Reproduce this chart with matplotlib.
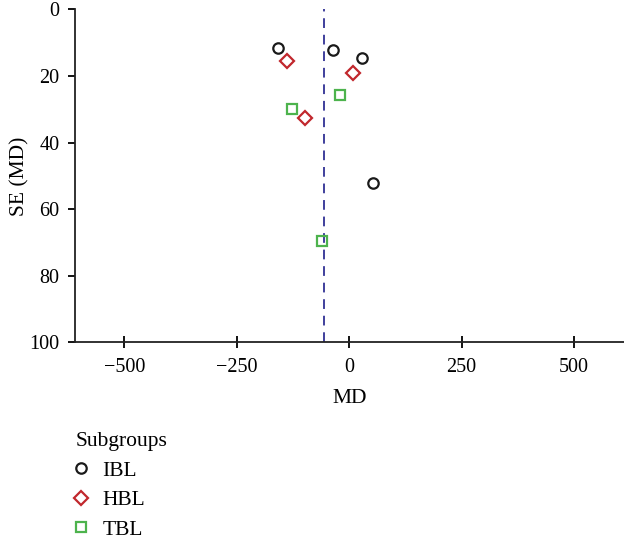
import matplotlib
matplotlib.use("Agg")
import matplotlib.pyplot as plt
from matplotlib.lines import Line2D

plt.rcParams['font.family'] = ['Liberation Serif', 'DejaVu Serif']

ibl_md = [-159, -36, 29, 53]
ibl_se = [11.5, 12.2, 14.5, 52.2]
hbl_md = [-139, 9, -99]
hbl_se = [15.5, 19.2, 32.5]
tbl_md = [-21, -128, -60]
tbl_se = [25.8, 30.0, 69.5]
pooled_md = -56
xticks = [-500, -250, 0, 250, 500]
yticks = [0, 20, 40, 60, 80, 100]

fig = plt.figure(figsize=(6.24, 5.55), dpi=100)
ax = fig.add_axes([0.120, 0.3832, 0.880, 0.6000])

ax.plot(ibl_md, ibl_se, 'o', ls='none', mfc='none', mec='#1a1a1a', ms=7.5, mew=1.6)
ax.plot(hbl_md, hbl_se, 'D', ls='none', mfc='none', mec='#c1272d', ms=7, mew=1.6)
ax.plot(tbl_md, tbl_se, 's', ls='none', mfc='none', mec='#4db34d', ms=6.8, mew=1.6)
ax.axvline(pooled_md, color='#3f3f9c', ls=(0, (5, 3.5)), lw=1.4, zorder=0)

ax.set_xlim(-610, 611)
ax.set_ylim(100, 0)
ax.set_xticks(xticks)
ax.set_xticklabels(['\u2212500', '\u2212250', '0', '250', '500'])
ax.set_yticks(yticks)
for s in ['top', 'right']:
    ax.spines[s].set_visible(False)
for s in ['left', 'bottom']:
    ax.spines[s].set_linewidth(1.3)
    ax.spines[s].set_color('#222222')
ax.tick_params(axis='x', direction='inout', length=8, width=1.3, labelsize=14.5, pad=7)
ax.tick_params(axis='y', direction='out', length=5, width=1.3, labelsize=14.5, pad=6)
ax.set_xlabel('MD', fontsize=15.5, labelpad=9)
ax.set_ylabel('SE (MD)', fontsize=15.5, labelpad=0)

handles = [
    Line2D([], [], marker='o', ls='none', mfc='none', mec='#1a1a1a', ms=7.5, mew=1.6),
    Line2D([], [], marker='D', ls='none', mfc='none', mec='#c1272d', ms=7, mew=1.6),
    Line2D([], [], marker='s', ls='none', mfc='none', mec='#4db34d', ms=6.8, mew=1.6),
]
leg = fig.legend(handles, ['IBL', 'HBL', 'TBL'], title='Subgroups', loc='upper left',
                 bbox_to_anchor=(0.108, 0.2376), frameon=False, fontsize=15.5,
                 title_fontsize=15.5, alignment='left', labelspacing=0.45,
                 handletextpad=0.73, handlelength=0.5, borderaxespad=0)

fig.savefig('out.png', dpi=100)
